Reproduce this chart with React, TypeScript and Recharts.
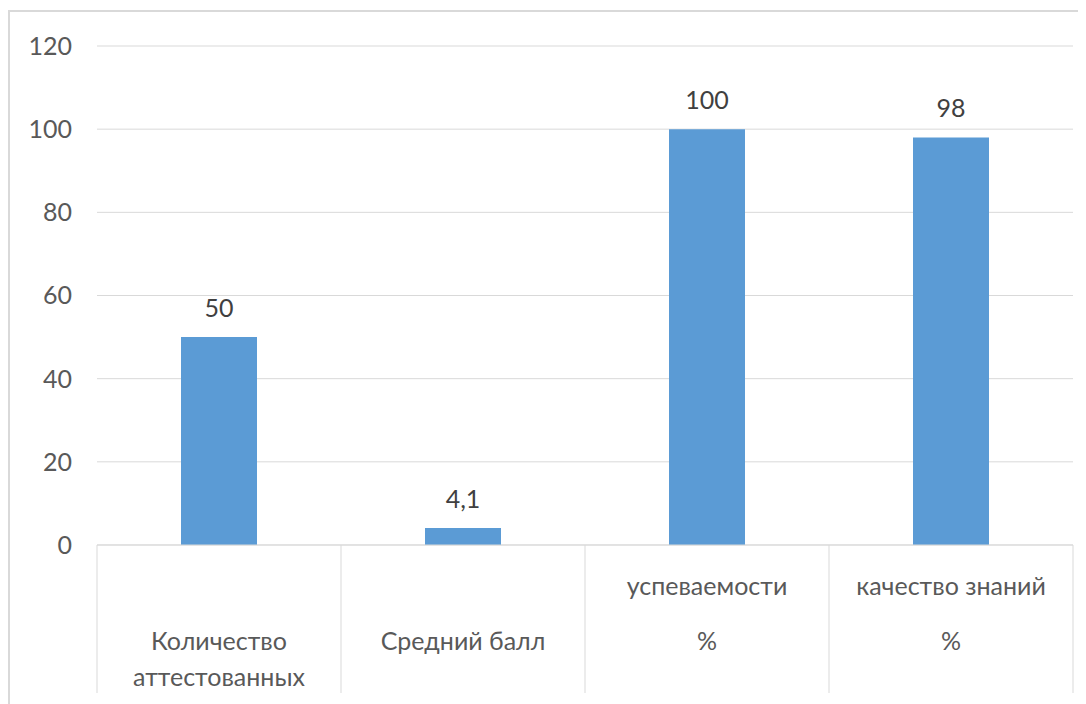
import { BarChart, Bar, XAxis, YAxis, CartesianGrid, LabelList } from "recharts";

// Категории и значения
const categories = ["Количество аттестованных", "Средний балл", "успеваемости %", "качество знаний %"];
const values = [50, 4.1, 100, 98];
const tickLines = [
  ["", "Количество", "аттестованных"],
  ["", "Средний балл"],
  ["успеваемости", "%"],
  ["качество знаний", "%"],
];
const yTicks = [0, 20, 40, 60, 80, 100, 120];

const data = categories.map((c, i) => ({ name: c, value: values[i], idx: i }));

const W = 1080;
const H = 690;
const M = { top: 34, right: 17, bottom: 7, left: 0 };
const Y_W = 87;
const X_H = 150;
const band = (W - M.left - M.right - Y_W) / categories.length;
const lineY = [40, 95, 131];
const font = "Lato, 'Open Sans', sans-serif";
const fs = 25;

function CatTick(props: any) {
  const { x, y, index } = props;
  const lines = tickLines[index] || [];
  return (
    <g>
      <line x1={x - band / 2} x2={x - band / 2} y1={y} y2={y + 148} stroke="#d9d9d9" />
      {index === categories.length - 1 && (
        <line x1={x + band / 2} x2={x + band / 2} y1={y} y2={y + 148} stroke="#d9d9d9" />
      )}
      {lines.map((l, i) => (
        <text key={i} x={x} y={y + lineY[i]} textAnchor="middle" dominantBaseline="central"
          fill="#595959" fontSize={fs} fontFamily={font}>
          {l}
        </text>
      ))}
    </g>
  );
}

export default function App() {
  return (
    <div style={{ marginTop: 2, width: W + 20, height: 710, border: "2px solid #d9d9d9", boxSizing: "border-box", background: "#fff" }}>
      <BarChart width={W} height={H} data={data} margin={M} barSize={76}>
        <CartesianGrid vertical={false} stroke="#d9d9d9" />
        <XAxis dataKey="name" height={X_H} interval={0} tickLine={false} tickSize={0} tickMargin={0}
          axisLine={{ stroke: "#d9d9d9" }} tick={<CatTick />} />
        <YAxis width={Y_W} domain={[0, 120]} ticks={yTicks} axisLine={false} tickLine={false}
          tickSize={0} tickMargin={25} tick={{ fill: "#595959", fontSize: fs, fontFamily: font }} />
        <Bar dataKey="value" fill="#5b9bd5" isAnimationActive={false}>
          <LabelList dataKey="value" position="top" offset={20} fill="#404040" fontSize={fs}
            fontFamily={font} formatter={(v: any) => String(v).replace(".", ",")} />
        </Bar>
      </BarChart>
    </div>
  );
}
